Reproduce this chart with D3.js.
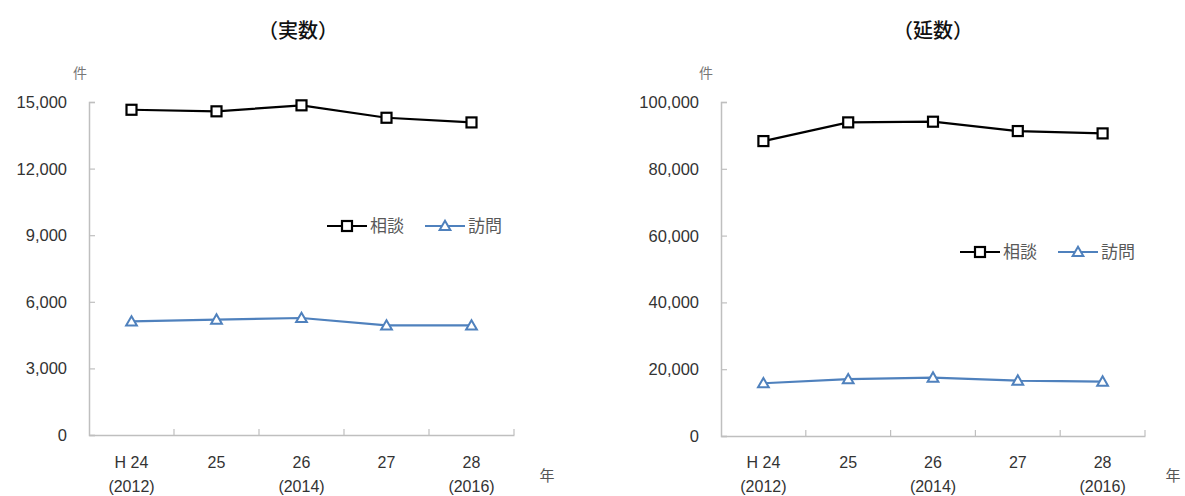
<!DOCTYPE html>
<html><head><meta charset="utf-8">
<script src="https://cdn.jsdelivr.net/npm/d3@7"></script>
<style>
body{margin:0;background:#fff;}
svg{display:block;}
</style></head>
<body>
<svg id="c" width="1185" height="496"></svg>
<script>
const categories = ["H 24|(2012)", "25", "26|(2014)", "27", "28|(2016)"];
const titles = ["（実数）", "（延数）"];
const seriesNames = ["相談", "訪問"];
const jissuSodan = [14650, 14580, 14850, 14290, 14080];
const jissuHomon = [5120, 5200, 5270, 4940, 4940];
const nobeSodan = [88300, 93900, 94100, 91300, 90600];
const nobeHomon = [15800, 17000, 17500, 16600, 16300];
const jissuTicks = [0, 3000, 6000, 9000, 12000, 15000];
const nobeTicks = [0, 20000, 40000, 60000, 80000, 100000];
const unitLabel = "件";
const yearLabel = "年";

const svg = d3.select("#c");
const colors = ["#000000", "#4f81bd"];
const fmt = d3.format(",");

function panel(o) {
  const g = svg.append("g");
  const x = d3.scaleBand().domain(categories).range([o.x0, o.x1]);
  const y = d3.scaleLinear().domain([0, o.max]).range([o.y0, o.y1]);

  g.append("text").attr("x", o.titleX).attr("y", 38).attr("text-anchor", "middle")
    .attr("font-family", "Noto Sans CJK JP").attr("font-size", 20).attr("font-weight", 500)
    .attr("fill", "#111").text(o.title);

  // y axis
  const ya = g.append("g").attr("transform", `translate(${o.x0},0)`)
    .call(d3.axisRight(y).tickValues(o.ticks).tickSize(6).tickFormat(""));
  ya.select(".domain").attr("stroke", "#bfbfbf").attr("stroke-width", 1.5);
  ya.selectAll(".tick line").attr("stroke", "#bfbfbf").attr("stroke-width", 1.2);
  g.selectAll(".ylab").data(o.ticks).enter().append("text")
    .attr("x", o.x0 - 22).attr("y", d => y(d) + 6).attr("text-anchor", "end")
    .attr("font-family", "Liberation Sans, Arial").attr("font-size", 16.5)
    .attr("fill", "#333").text(d => fmt(d));

  // x axis
  const xa = g.append("g").attr("transform", `translate(0,${o.y0})`)
    .call(d3.axisTop(x).tickSize(0).tickFormat(""));
  xa.select(".domain").attr("stroke", "#bfbfbf").attr("stroke-width", 1.5);
  const bounds = categories.slice(1).map(c => x(c)).concat([o.x1]);
  g.selectAll(".xt").data(bounds).enter().append("line")
    .attr("x1", d => d).attr("x2", d => d).attr("y1", o.y0).attr("y2", o.y0 - 6)
    .attr("stroke", "#bfbfbf").attr("stroke-width", 1.2);
  categories.forEach(c => {
    const parts = c.split("|");
    const cx = x(c) + x.bandwidth() / 2;
    parts.forEach((p, i) => {
      g.append("text").attr("x", cx).attr("y", 468 + i * 24).attr("text-anchor", "middle")
        .attr("font-family", "Liberation Sans, Arial").attr("font-size", 16)
        .attr("fill", "#333").text(p);
    });
  });

  g.append("text").attr("x", o.unitX).attr("y", 78).attr("text-anchor", "middle")
    .attr("font-family", "Noto Sans CJK JP").attr("font-size", 14).attr("fill", "#777").text(unitLabel);
  g.append("text").attr("x", o.yearX).attr("y", 481).attr("text-anchor", "middle")
    .attr("font-family", "Noto Sans CJK JP").attr("font-size", 15).attr("fill", "#555").text(yearLabel);

  const line = d3.line().x((d, i) => x(categories[i]) + x.bandwidth() / 2).y(d => y(d));
  [o.s1, o.s2].forEach((data, si) => {
    g.append("path").datum(data).attr("d", line).attr("fill", "none")
      .attr("stroke", colors[si]).attr("stroke-width", 2.2);
    data.forEach((d, i) => {
      const cx = x(categories[i]) + x.bandwidth() / 2, cy = y(d);
      if (si === 0) {
        g.append("rect").attr("x", cx - 5).attr("y", cy - 5).attr("width", 10).attr("height", 10)
          .attr("fill", "#fff").attr("stroke", "#000").attr("stroke-width", 2.2);
      } else {
        g.append("path").attr("d", d3.symbol(d3.symbolTriangle, 50)())
          .attr("transform", `translate(${cx},${cy + 1})`)
          .attr("fill", "#fff").attr("stroke", colors[1]).attr("stroke-width", 2);
      }
    });
  });

  // legend
  const lg = g.append("g").attr("transform", `translate(${o.legX},${o.legY})`);
  seriesNames.forEach((n, i) => {
    const ox = i * 98;
    lg.append("line").attr("x1", ox).attr("x2", ox + 40).attr("y1", 0).attr("y2", 0)
      .attr("stroke", colors[i]).attr("stroke-width", 2.2);
    if (i === 0) {
      lg.append("rect").attr("x", ox + 15).attr("y", -5).attr("width", 10).attr("height", 10)
        .attr("fill", "#fff").attr("stroke", "#000").attr("stroke-width", 2.2);
    } else {
      lg.append("path").attr("d", d3.symbol(d3.symbolTriangle, 50)())
        .attr("transform", `translate(${ox + 20},1)`)
        .attr("fill", "#fff").attr("stroke", colors[1]).attr("stroke-width", 2);
    }
    lg.append("text").attr("x", ox + 43).attr("y", 6).attr("font-family", "Noto Sans CJK JP")
      .attr("font-size", 17).attr("fill", "#595959").text(n);
  });
}

panel({x0: 89, x1: 514, y0: 435, y1: 102, max: 15000, ticks: jissuTicks, s1: jissuSodan, s2: jissuHomon,
  title: titles[0], titleX: 298, unitX: 80, yearX: 547, legX: 327, legY: 226});
panel({x0: 721, x1: 1145, y0: 436, y1: 102, max: 100000, ticks: nobeTicks, s1: nobeSodan, s2: nobeHomon,
  title: titles[1], titleX: 933, unitX: 706, yearX: 1173, legX: 960, legY: 252});
</script>
</body></html>
